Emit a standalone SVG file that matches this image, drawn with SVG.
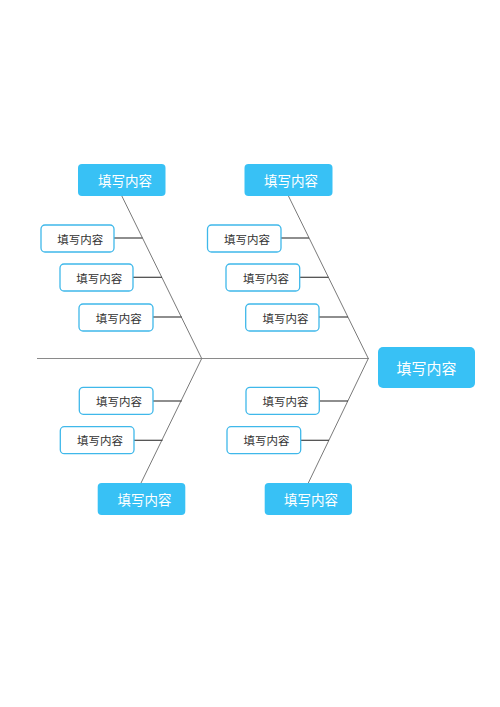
<svg xmlns="http://www.w3.org/2000/svg" width="500" height="707" viewBox="0 0 500 707">
<style>
.bg{fill:#ffffff}
.main rect{fill:#38C1F5;stroke:none}
.main text{fill:#ffffff;font-family:"Noto Sans CJK SC","Noto Sans",sans-serif;font-size:13.5px;text-anchor:middle;dominant-baseline:central}
.sub rect{fill:#ffffff;stroke:#3FB8EA;stroke-width:1.3}
.sub text{fill:#333333;font-family:"Noto Sans CJK SC","Noto Sans",sans-serif;font-size:11.5px;text-anchor:middle;dominant-baseline:central}
.spine{stroke:#8a8a8a;stroke-width:1;fill:none}
.bone{stroke:#7a7a7a;stroke-width:1;fill:none}
.tick{stroke:#444444;stroke-width:1.2;fill:none}
</style>
<rect class="bg" x="0" y="0" width="500" height="707"/>
<g id="connectors">
<line class="spine" x1="37" y1="358.5" x2="369" y2="358.5"/>
<line class="bone" x1="121.7" y1="195.7" x2="201.7" y2="358.5"/>
<line class="bone" x1="288.3" y1="195.7" x2="368.3" y2="358.5"/>
<line class="bone" x1="201.7" y1="358.5" x2="141" y2="483"/>
<line class="bone" x1="368.3" y1="358.5" x2="308.3" y2="483"/>
<line class="tick" x1="114" y1="238" x2="142.5" y2="238"/>
<line class="tick" x1="133" y1="277.3" x2="162" y2="277.3"/>
<line class="tick" x1="152.7" y1="317" x2="181.7" y2="317"/>
<line class="tick" x1="281" y1="238" x2="309" y2="238"/>
<line class="tick" x1="299.7" y1="277.3" x2="328.5" y2="277.3"/>
<line class="tick" x1="319" y1="317" x2="348" y2="317"/>
<line class="tick" x1="153" y1="401" x2="181.7" y2="401"/>
<line class="tick" x1="134" y1="440.3" x2="162.5" y2="440.3"/>
<line class="tick" x1="319.3" y1="401" x2="348" y2="401"/>
<line class="tick" x1="300.7" y1="440.3" x2="329" y2="440.3"/>
</g>
<g id="head" class="main"><rect x="378" y="347" width="97" height="41" rx="5"/><text x="426.5" y="367.5" style="font-size:15px">填写内容</text></g>
<g id="cat-tl" class="main"><rect x="78" y="164" width="87.5" height="32" rx="4"/><text x="125" y="180">填写内容</text></g>
<g id="cat-tr" class="main"><rect x="244.5" y="164" width="88" height="32" rx="4"/><text x="291" y="180">填写内容</text></g>
<g id="cat-bl" class="main"><rect x="97.7" y="483" width="87.6" height="32" rx="4"/><text x="144.5" y="499">填写内容</text></g>
<g id="cat-br" class="main"><rect x="264.7" y="483" width="87.3" height="32" rx="4"/><text x="311" y="499">填写内容</text></g>
<g id="tl-1" class="sub"><rect x="41" y="225" width="73" height="27" rx="4"/><text x="80.3" y="238.5">填写内容</text></g>
<g id="tl-2" class="sub"><rect x="60" y="264" width="73" height="27" rx="4"/><text x="99.3" y="277.5">填写内容</text></g>
<g id="tl-3" class="sub"><rect x="79" y="304" width="74" height="27" rx="4"/><text x="118.7" y="317.5">填写内容</text></g>
<g id="tr-1" class="sub"><rect x="207.5" y="225" width="73.5" height="27" rx="4"/><text x="247" y="238.5">填写内容</text></g>
<g id="tr-2" class="sub"><rect x="226" y="264" width="73.7" height="27" rx="4"/><text x="266" y="277.5">填写内容</text></g>
<g id="tr-3" class="sub"><rect x="245.7" y="304" width="73.3" height="27" rx="4"/><text x="285.5" y="317.5">填写内容</text></g>
<g id="bl-1" class="sub"><rect x="79.3" y="387.3" width="73.7" height="27" rx="4"/><text x="119" y="401">填写内容</text></g>
<g id="bl-2" class="sub"><rect x="60.3" y="426.7" width="73.7" height="27" rx="4"/><text x="100" y="440.3">填写内容</text></g>
<g id="br-1" class="sub"><rect x="246" y="387.3" width="73.3" height="27" rx="4"/><text x="285.5" y="401">填写内容</text></g>
<g id="br-2" class="sub"><rect x="227" y="426.7" width="73.7" height="27" rx="4"/><text x="266.5" y="440.3">填写内容</text></g>
</svg>
